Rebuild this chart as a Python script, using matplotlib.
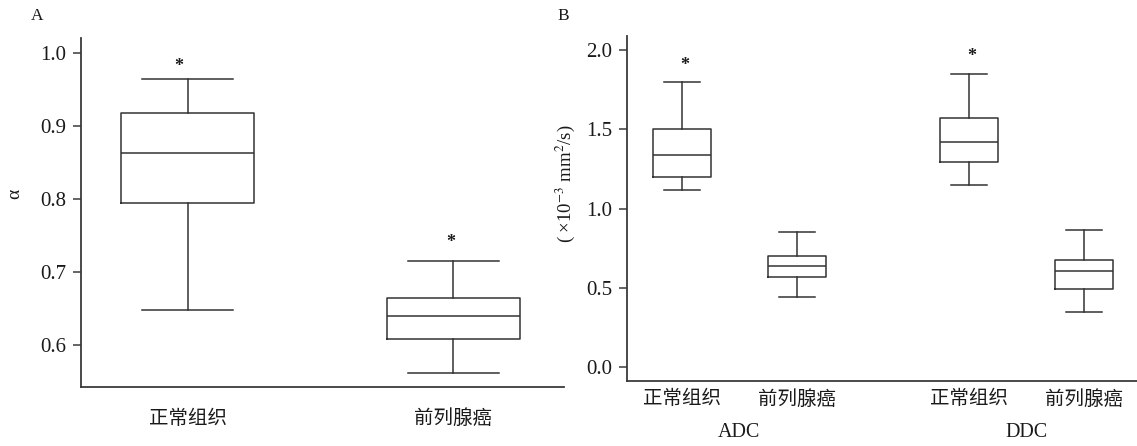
import matplotlib
matplotlib.use("Agg")
import matplotlib.pyplot as plt

plt.rcParams['font.family'] = ['Liberation Serif', 'Noto Sans CJK SC']
plt.rcParams['mathtext.fontset'] = 'stix'

# ---------------- data ----------------
groups_a = ['正常组织', '前列腺癌']
alpha_whislo = [0.648, 0.561]
alpha_q1 = [0.794, 0.608]
alpha_med = [0.862, 0.639]
alpha_q3 = [0.918, 0.664]
alpha_whishi = [0.964, 0.715]
alpha_star_y = [0.981, 0.740]

groups_b = ['正常组织', '前列腺癌', '正常组织', '前列腺癌']
metric_names = ['ADC', 'DDC']
b_whislo = [1.118, 0.445, 1.149, 0.351]
b_q1 = [1.200, 0.568, 1.294, 0.496]
b_med = [1.339, 0.638, 1.420, 0.607]
b_q3 = [1.500, 0.704, 1.569, 0.676]
b_whishi = [1.800, 0.851, 1.851, 0.866]
b_star_idx = [0, 2]
b_star_y = [1.905, 1.960]

a_yticks = [0.6, 0.7, 0.8, 0.9, 1.0]
b_yticks = [0.0, 0.5, 1.0, 1.5, 2.0]

# ---------------- style ----------------
SP = '#3a3a3a'
BX = '#333333'
TXT = '#1a1a1a'

def stats(lo, q1, med, q3, hi):
    return [dict(whislo=a, q1=b, med=c, q3=d, whishi=e, fliers=[])
            for a, b, c, d, e in zip(lo, q1, med, q3, hi)]

fig = plt.figure(figsize=(11.37, 4.46), dpi=100)

ax1 = fig.add_axes([0.0710, 0.1330, 0.4250, 0.7811])
ax2 = fig.add_axes([0.5512, 0.1457, 0.4488, 0.7736])

lp = dict(color=BX, linewidth=1.1)

pos_a = [1, 2]
ax1.bxp(stats(alpha_whislo, alpha_q1, alpha_med, alpha_q3, alpha_whishi),
        positions=pos_a, widths=0.5, capwidths=0.34, showfliers=False,
        boxprops=lp, whiskerprops=lp, capprops=lp, medianprops=lp)
ax1.set_xlim(0.598, 2.416)
ax1.set_ylim(0.5425, 1.0197)
ax1.set_yticks(a_yticks)
ax1.set_yticklabels([f'{v:.1f}' for v in a_yticks])
ax1.set_xticks(pos_a)
ax1.set_xticklabels(groups_a)
star_x_a = [0.965, 1.99]
for x, y in zip(star_x_a, alpha_star_y):
    ax1.text(x, y, '*', ha='center', va='center', fontsize=13, fontweight='bold', color=TXT)
ax1.text(-0.136, 0.553, 'α', transform=ax1.transAxes, rotation=90,
         ha='center', va='center', fontsize=14, color=TXT)

pos_b = [1, 2, 3.5, 4.5]
ax2.bxp(stats(b_whislo, b_q1, b_med, b_q3, b_whishi),
        positions=pos_b, widths=0.5, capwidths=0.31, showfliers=False,
        boxprops=lp, whiskerprops=lp, capprops=lp, medianprops=lp)
ax2.set_xlim(0.518, 4.963)
ax2.set_ylim(-0.086, 2.088)
ax2.set_yticks(b_yticks)
ax2.set_yticklabels([f'{v:.1f}' for v in b_yticks])
ax2.set_xticks(pos_b)
ax2.set_xticklabels(groups_b)
for i, y in zip(b_star_idx, b_star_y):
    ax2.text(pos_b[i] + 0.02, y, '*', ha='center', va='center', fontsize=13,
             fontweight='bold', color=TXT)
ax2.text(-0.121, 0.571, r'( ×10$^{-3}$ mm$^{2}$/s)', transform=ax2.transAxes,
         rotation=90, ha='center', va='center', fontsize=13.5, color=TXT)
group_centers = [1.5, 4.0]
for name, xc in zip(metric_names, group_centers):
    ax2.text(xc, -0.148, name, transform=ax2.get_xaxis_transform(),
             ha='center', va='center', fontsize=14.5, color=TXT)

for ax, xpad in ((ax1, 16.5), (ax2, 6.5)):
    for s in ('top', 'right'):
        ax.spines[s].set_visible(False)
    for s in ('left', 'bottom'):
        ax.spines[s].set_color(SP)
        ax.spines[s].set_linewidth(1.3)
    ax.tick_params(axis='y', direction='out', length=5.8, width=1.1, color=SP,
                   labelsize=15, pad=4.8, labelcolor=TXT)
    ax.tick_params(axis='x', length=0, labelsize=14, pad=xpad, labelcolor=TXT)
    ax.set_facecolor('none')

fig.text(0.0324, 0.9637, 'A', ha='center', va='center', fontsize=12.5, color=TXT)
fig.text(0.4952, 0.9637, 'B', ha='center', va='center', fontsize=12.5, color=TXT)

fig.savefig('out.png', dpi=100, facecolor='white')
